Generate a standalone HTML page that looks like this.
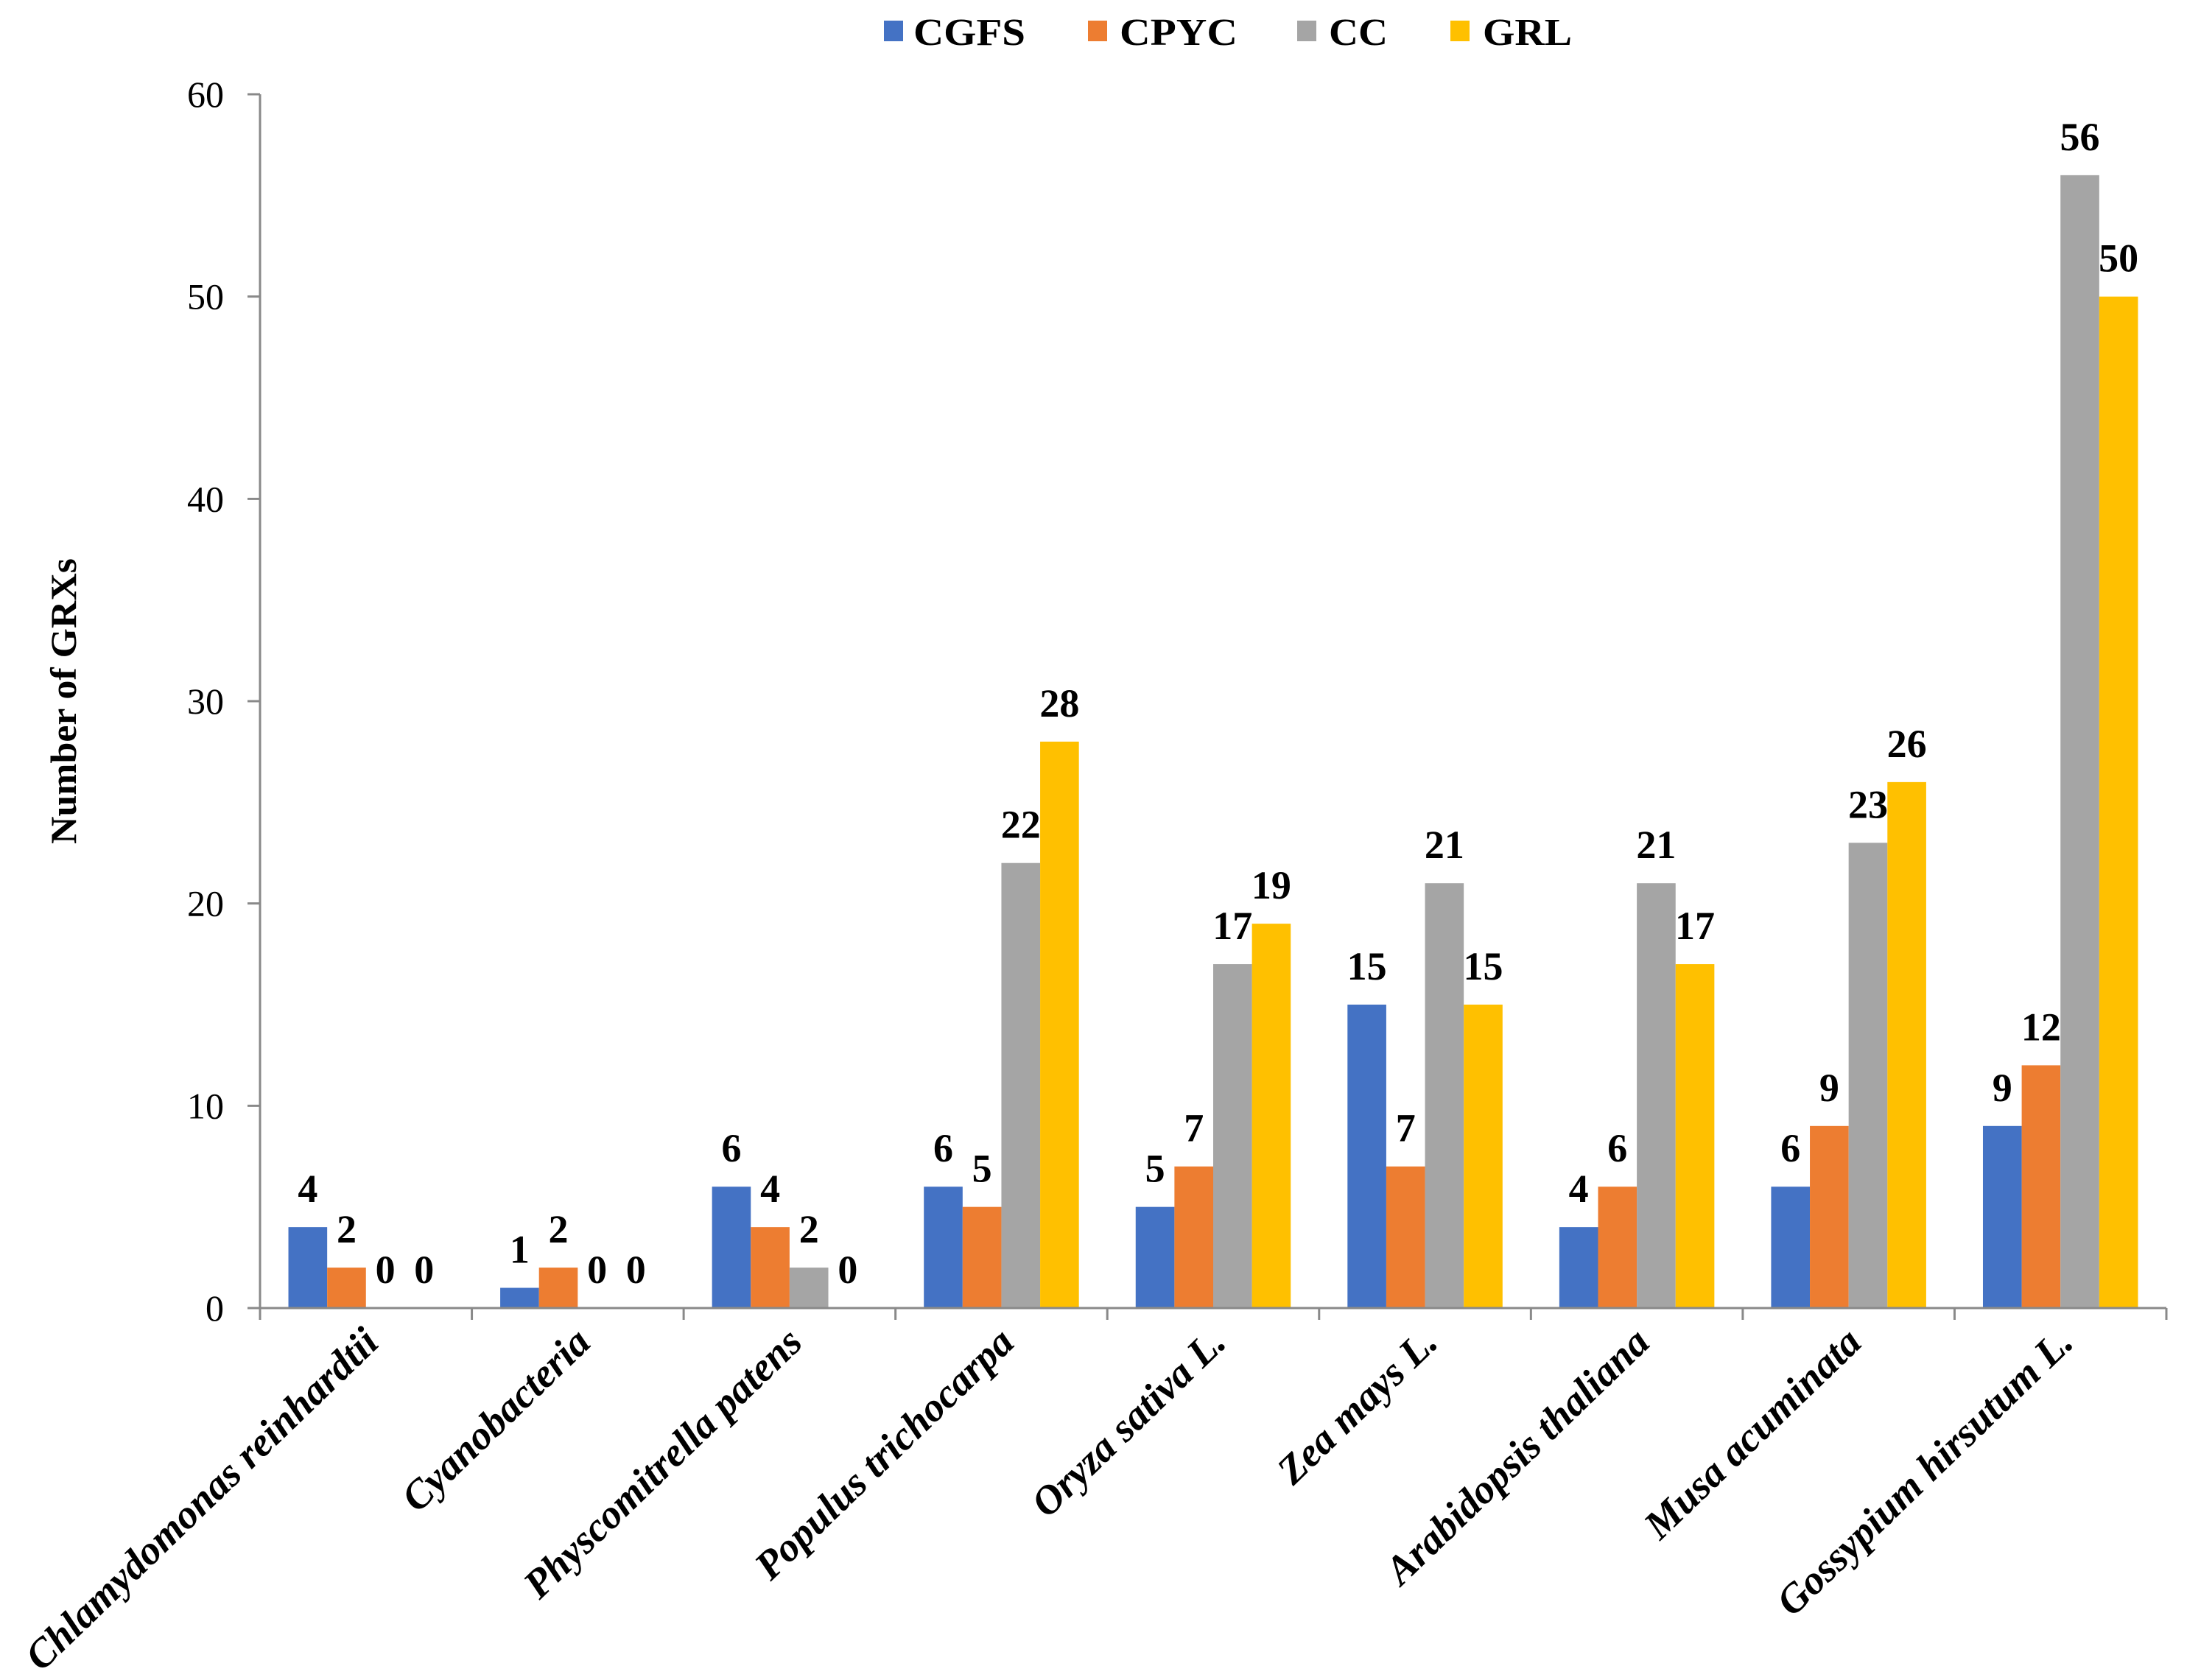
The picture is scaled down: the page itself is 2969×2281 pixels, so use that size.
<!DOCTYPE html>
<html><head><meta charset="utf-8"><style>
html,body{margin:0;padding:0;background:#fff;}
svg{display:block;font-family:"Liberation Serif",serif;}
</style></head><body>
<svg id="chart" width="2969" height="2281" viewBox="0 0 2969 2281" xmlns="http://www.w3.org/2000/svg">
<g id="legend" font-weight="bold" font-size="52">
 <g><rect x="1200" y="28" width="26" height="28" fill="#4472C4"/><text x="1240" y="61" textLength="152" lengthAdjust="spacingAndGlyphs">CGFS</text></g>
 <g><rect x="1477" y="28" width="26" height="28" fill="#ED7D31"/><text x="1520" y="61" textLength="160" lengthAdjust="spacingAndGlyphs">CPYC</text></g>
 <g><rect x="1761" y="28" width="26" height="28" fill="#A5A5A5"/><text x="1804" y="61" textLength="80" lengthAdjust="spacingAndGlyphs">CC</text></g>
 <g><rect x="1969" y="28" width="26" height="28" fill="#FFC000"/><text x="2013" y="61" textLength="121" lengthAdjust="spacingAndGlyphs">GRL</text></g>
</g>
<text transform="translate(103,952) rotate(-90)" text-anchor="middle" font-weight="bold" font-size="50" textLength="388" lengthAdjust="spacingAndGlyphs">Number of GRXs</text>
<g id="plot"></g>
</svg>
<script>
const categories=["Chlamydomonas reinhardtii","Cyanobacteria","Physcomitrella patens","Populus trichocarpa","Oryza sativa L.","Zea mays L.","Arabidopsis thaliana","Musa acuminata","Gossypium hirsutum L."];
const seriesNames=["CGFS","CPYC","CC","GRL"];
const cgfs=[4,1,6,6,5,15,4,6,9];
const cpyc=[2,2,4,5,7,7,6,9,12];
const cc=[0,0,2,22,17,21,21,23,56];
const grl=[0,0,0,28,19,15,17,26,50];
const yTicks=[0,10,20,30,40,50,60];

const colors=["#4472C4","#ED7D31","#A5A5A5","#FFC000"];
const series=[cgfs,cpyc,cc,grl];
const X0=353,X1=2941,Y0=1776,Y60=128,YMAX=60;
const catW=(X1-X0)/categories.length, barW=catW*0.183;
const yS=v=>Y0-(Y0-Y60)*v/YMAX;
const xC=i=>X0+catW*(i+0.5);
const NS="http://www.w3.org/2000/svg";
const g=document.getElementById('plot');
function mk(t,a){const e=document.createElementNS(NS,t);for(const k in a)e.setAttribute(k,a[k]);g.appendChild(e);return e;}
let ya=mk('line',{x1:X0,y1:Y60,x2:X0,y2:Y0,stroke:'#898989','stroke-width':3});


yTicks.forEach(v=>{
 const y=yS(v);
 let t=mk('line',{x1:X0-17,y1:y,x2:X0,y2:y,stroke:'#898989','stroke-width':3});
 
 
 let l=mk('text',{x:304,y:y+17,'text-anchor':'end','font-size':50});
 
 
 l.textContent=v;
});
series.forEach((s,si)=>{
 s.forEach((v,i)=>{
  const x=xC(i)+(si-2)*barW;
  const y=yS(v);
  let r=mk('rect',{x:x,y:y,width:barW,height:Y0-y,fill:colors[si]});
  
  
  let t=mk('text',{x:x+barW/2,y:y-34,'text-anchor':'middle','font-weight':'bold','font-size':54});
  
  
  t.textContent=v;
 });
});
let xa=mk('line',{x1:X0-17,y1:Y0,x2:X1,y2:Y0,stroke:'#898989','stroke-width':3});


for(let i=0;i<=categories.length;i++){
 const x=X0+catW*i;
 let t=mk('line',{x1:x,y1:Y0,x2:x,y2:Y0+16,stroke:'#898989','stroke-width':3});
 
 
}
categories.forEach((c,i)=>{
 const x=xC(i)+20,y=Y0+50;
 let t=mk('text',{transform:`translate(${x},${y}) rotate(-44)`,'text-anchor':'end','font-weight':'bold','font-style':'italic','font-size':55});
 
 
 t.textContent=c;
});
</script>
</body></html>
